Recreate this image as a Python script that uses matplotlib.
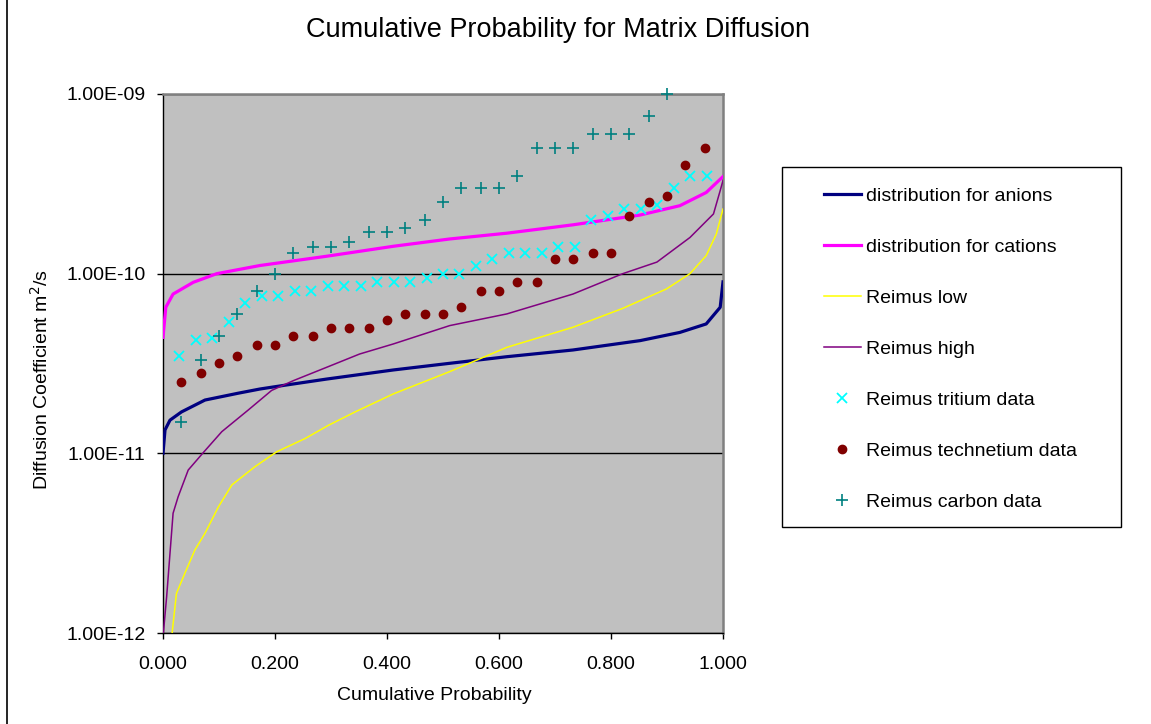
import matplotlib
matplotlib.use("Agg")
import matplotlib.pyplot as plt
from matplotlib.lines import Line2D
from matplotlib.patches import Rectangle
from matplotlib.ticker import FixedLocator, FuncFormatter, NullLocator

plt.rcParams['font.family'] = ['Liberation Sans', 'DejaVu Sans']

# ---------------- data ----------------
anion_p = [0.0, 0.0036, 0.0125, 0.033, 0.075, 0.134, 0.173, 0.22, 0.292, 0.411,
           0.512, 0.614, 0.732, 0.852, 0.923, 0.970, 0.995, 1.0]
anion_d = [1.0e-11, 1.35e-11, 1.53e-11, 1.70e-11, 1.98e-11, 2.16e-11, 2.28e-11, 2.40e-11,
           2.59e-11, 2.91e-11, 3.17e-11, 3.45e-11, 3.76e-11, 4.24e-11, 4.71e-11, 5.25e-11,
           6.5e-11, 9.0e-11]

cation_p = [0.0, 0.005, 0.018, 0.054, 0.096, 0.173, 0.292, 0.411, 0.512, 0.614,
            0.732, 0.852, 0.923, 0.970, 1.0]
cation_d = [4.42e-11, 6.5e-11, 7.7e-11, 8.95e-11, 1.0e-10, 1.11e-10, 1.25e-10, 1.42e-10,
            1.56e-10, 1.68e-10, 1.87e-10, 2.12e-10, 2.39e-10, 2.83e-10, 3.47e-10]

low_p = [0.0155, 0.024, 0.039, 0.057, 0.075, 0.099, 0.123, 0.164, 0.203, 0.254, 0.295,
         0.343, 0.411, 0.512, 0.614, 0.732, 0.821, 0.899, 0.941, 0.970, 0.988, 1.0]
low_d = [0.95e-12, 1.66e-12, 2.15e-12, 2.9e-12, 3.59e-12, 5.04e-12, 6.67e-12, 8.42e-12,
         1.02e-11, 1.21e-11, 1.43e-11, 1.70e-11, 2.14e-11, 2.85e-11, 3.89e-11, 5.03e-11,
         6.41e-11, 8.22e-11, 1.0e-10, 1.26e-10, 1.66e-10, 2.29e-10]

high_p = [0.0, 0.0065, 0.0125, 0.018, 0.027, 0.045, 0.072, 0.105, 0.152, 0.194, 0.233,
          0.292, 0.351, 0.411, 0.512, 0.614, 0.732, 0.821, 0.882, 0.941, 0.983, 0.995, 1.0]
high_d = [0.95e-12, 1.59e-12, 2.78e-12, 4.64e-12, 5.73e-12, 8.07e-12, 1.01e-11, 1.32e-11,
          1.74e-11, 2.24e-11, 2.54e-11, 3.01e-11, 3.57e-11, 4.06e-11, 5.14e-11, 5.97e-11,
          7.7e-11, 1.0e-10, 1.16e-10, 1.59e-10, 2.15e-10, 2.9e-10, 3.3e-10]

tritium_p = [0.029, 0.059, 0.088, 0.118, 0.147, 0.176, 0.206, 0.235, 0.265, 0.294, 0.324,
             0.353, 0.382, 0.412, 0.441, 0.471, 0.500, 0.529, 0.559, 0.588, 0.618, 0.647,
             0.676, 0.706, 0.735, 0.765, 0.794, 0.824, 0.853, 0.882, 0.912, 0.941, 0.971]
tritium_d = [3.5e-11, 4.3e-11, 4.4e-11, 5.4e-11, 6.9e-11, 7.5e-11, 7.5e-11, 8.0e-11, 8.0e-11,
             8.5e-11, 8.5e-11, 8.5e-11, 9.0e-11, 9.0e-11, 9.0e-11, 9.4e-11, 1.0e-10, 1.0e-10,
             1.1e-10, 1.2e-10, 1.3e-10, 1.3e-10, 1.3e-10, 1.4e-10, 1.4e-10, 2.0e-10, 2.1e-10,
             2.3e-10, 2.3e-10, 2.4e-10, 3.0e-10, 3.5e-10, 3.5e-10]

tech_p = [0.033, 0.067, 0.100, 0.133, 0.167, 0.200, 0.233, 0.267, 0.300, 0.333, 0.367,
          0.400, 0.433, 0.467, 0.500, 0.533, 0.567, 0.600, 0.633, 0.667, 0.700, 0.733,
          0.767, 0.800, 0.833, 0.867, 0.900, 0.933, 0.967]
tech_d = [2.5e-11, 2.8e-11, 3.2e-11, 3.5e-11, 4.0e-11, 4.0e-11, 4.5e-11, 4.5e-11, 5.0e-11,
          5.0e-11, 5.0e-11, 5.5e-11, 6.0e-11, 6.0e-11, 6.0e-11, 6.5e-11, 8.0e-11, 8.0e-11,
          9.0e-11, 9.0e-11, 1.2e-10, 1.2e-10, 1.3e-10, 1.3e-10, 2.1e-10, 2.5e-10, 2.7e-10,
          4.0e-10, 5.0e-10]

carbon_p = [0.033, 0.067, 0.100, 0.133, 0.167, 0.200, 0.233, 0.267, 0.300, 0.333, 0.367,
            0.400, 0.433, 0.467, 0.500, 0.533, 0.567, 0.600, 0.633, 0.667, 0.700, 0.733,
            0.767, 0.800, 0.833, 0.867, 0.900]
carbon_d = [1.5e-11, 3.3e-11, 4.5e-11, 6.0e-11, 8.0e-11, 1.0e-10, 1.3e-10, 1.4e-10, 1.4e-10,
            1.5e-10, 1.7e-10, 1.7e-10, 1.8e-10, 2.0e-10, 2.5e-10, 3.0e-10, 3.0e-10, 3.0e-10,
            3.5e-10, 5.0e-10, 5.0e-10, 5.0e-10, 6.0e-10, 6.0e-10, 6.0e-10, 7.5e-10, 1.0e-9]

x_ticks = [0.0, 0.2, 0.4, 0.6, 0.8, 1.0]
y_ticks = [1e-12, 1e-11, 1e-10, 1e-9]

title = "Cumulative Probability for Matrix Diffusion"
xlabel = "Cumulative Probability"
ylabel = "Diffusion Coefficient m$^{2}$/s"

# ---------------- figure ----------------
W, H = 1151, 724
fig = plt.figure(figsize=(W / 100, H / 100), dpi=100)
fig.patch.set_facecolor("white")

L, R, T, B = 163, 723, 94, 633
ax = fig.add_axes([L / W, 1 - B / H, (R - L) / W, (B - T) / H])
ax.set_facecolor("#C0C0C0")
ax.set_yscale("log")
ax.set_xlim(0, 1)
ax.set_ylim(1e-12, 1e-9)

ax.plot(anion_p, anion_d, color="#000080", lw=2.3, label="distribution for anions", zorder=3)
ax.plot(cation_p, cation_d, color="#FF00FF", lw=2.3, label="distribution for cations", zorder=3)
ax.plot(low_p, low_d, color="#FFFF00", lw=1.1, label="Reimus low", zorder=3)
ax.plot(high_p, high_d, color="#800080", lw=1.1, label="Reimus high", zorder=3)
ax.plot(tritium_p, tritium_d, ls="none", marker="x", ms=7.5, mew=1.3, color="#00FFFF",
        label="Reimus tritium data", zorder=4)
ax.plot(tech_p, tech_d, ls="none", marker="o", ms=6, color="#800000",
        label="Reimus technetium data", zorder=4)
ax.plot(carbon_p, carbon_d, ls="none", marker="+", ms=8, mew=1.2, color="#008080",
        label="Reimus carbon data", zorder=4, clip_on=False)

ax.xaxis.set_major_locator(FixedLocator(x_ticks))
ax.xaxis.set_major_formatter(FuncFormatter(lambda v, p: f"{v:.3f}"))
ax.yaxis.set_major_locator(FixedLocator(y_ticks))
ax.yaxis.set_minor_locator(NullLocator())
ax.yaxis.set_major_formatter(FuncFormatter(lambda v, p: f"{v:.2E}"))

ax.set_axisbelow(True)
ax.yaxis.grid(True, color="black", lw=1)
ax.tick_params(axis="both", direction="out", length=4.5, width=1, color="black",
               labelsize=14, labelcolor="black")
ax.tick_params(axis="y", pad=8)
ax.tick_params(axis="x", pad=12)
for lbl in ax.get_yticklabels():
    lbl.set_y(lbl.get_position()[1])

for s in ("top", "right"):
    ax.spines[s].set_color("#808080")
    ax.spines[s].set_linewidth(1.8)
for s in ("left", "bottom"):
    ax.spines[s].set_color("black")
    ax.spines[s].set_linewidth(1.0)

ax.set_xlabel(xlabel, fontsize=14)
ax.xaxis.set_label_coords(((L + R) / 2 - 9 - L) / (R - L), -(696 - B) / (B - T))
ax.xaxis.label.set_verticalalignment("center")
ax.set_ylabel(ylabel, fontsize=14)
ax.yaxis.set_label_coords((41 - L) / (R - L), (B - 379) / (B - T))
ax.yaxis.label.set_verticalalignment("center")

fig.suptitle(title, x=557.5 / W, y=1 - 30 / H, va="center", fontsize=19.5)

# chart border remnant on the left edge
fig.add_artist(Line2D([7 / W, 7 / W], [0, 1], color="black", lw=1.2, transform=fig.transFigure))

# legend frame + legend
fig.add_artist(Rectangle((782 / W, 1 - 527 / H), (1121 - 782) / W, (527 - 167) / H,
                         transform=fig.transFigure, facecolor="white", edgecolor="black",
                         lw=1.0, zorder=1))
leg = fig.legend(*ax.get_legend_handles_labels(), loc="upper left",
                 bbox_to_anchor=(824 / W, 1 - 187 / H), frameon=False, fontsize=14,
                 handlelength=1.9, handletextpad=0.26, labelspacing=1.72,
                 borderpad=0, borderaxespad=0, numpoints=1)
leg.set_zorder(2)

fig.savefig("out.png", dpi=100)
